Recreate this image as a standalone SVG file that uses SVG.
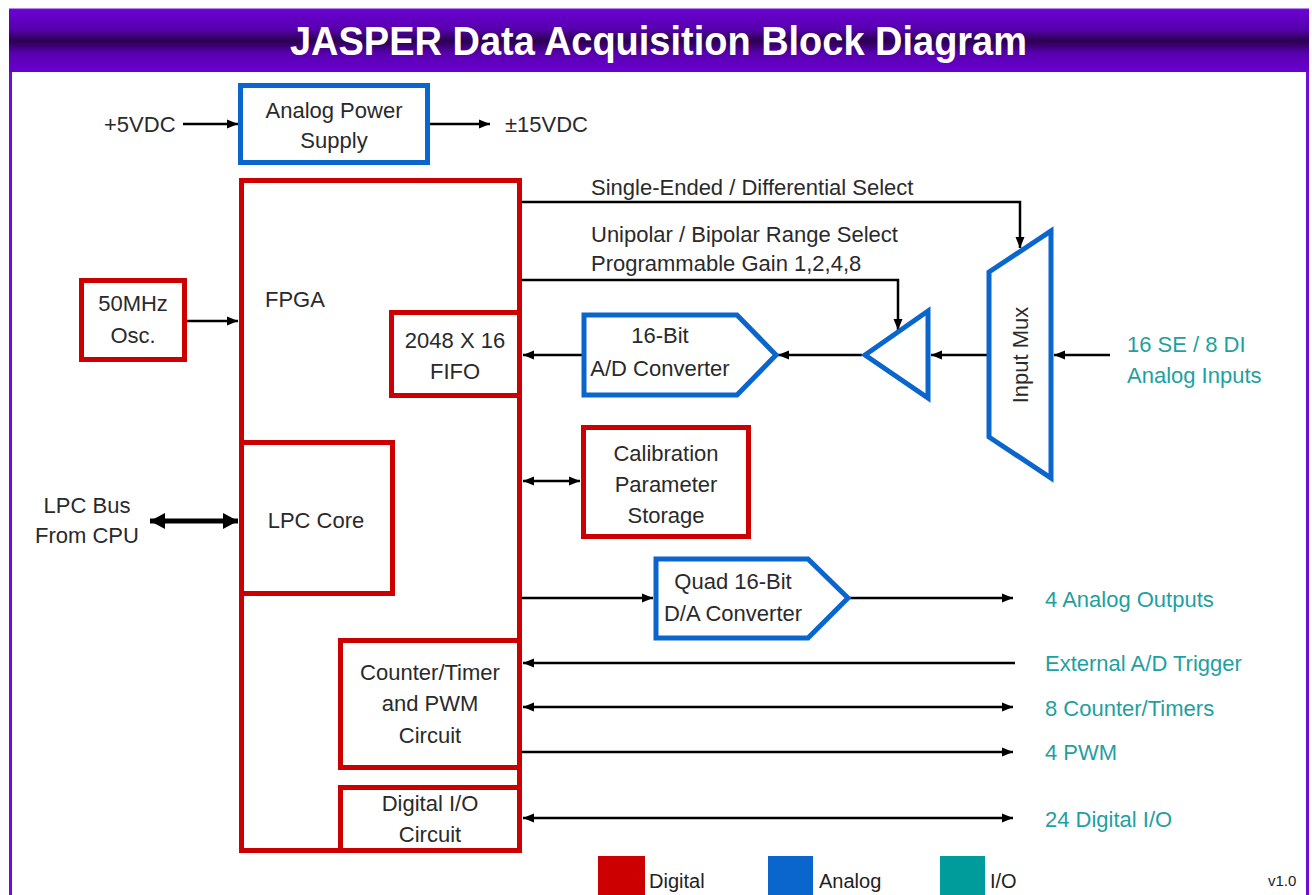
<svg xmlns="http://www.w3.org/2000/svg" width="1312" height="895" viewBox="0 0 1312 895">
<defs>
<linearGradient id="hdr" x1="0" y1="0" x2="0" y2="1">
<stop offset="0" stop-color="#6a00d0"/>
<stop offset="0.3" stop-color="#5800b0"/>
<stop offset="0.5" stop-color="#2a0050"/>
<stop offset="0.7" stop-color="#5800b0"/>
<stop offset="1" stop-color="#6a00d0"/>
</linearGradient>
<marker id="arr" markerUnits="userSpaceOnUse" markerWidth="12" markerHeight="10" refX="11" refY="5" orient="auto-start-reverse">
<path d="M0,0.5 L11,5 L0,9.5 Z" fill="#000"/>
</marker>
<marker id="arrB" markerUnits="userSpaceOnUse" markerWidth="16" markerHeight="16" refX="15" refY="8" orient="auto-start-reverse">
<path d="M0,0 L15,8 L0,16 Z" fill="#000"/>
</marker>
</defs>
<style>
.t{font-family:"Liberation Sans",Arial,sans-serif;font-size:22px;fill:#2a2a2a}
.c{text-anchor:middle}
.io{font-family:"Liberation Sans",Arial,sans-serif;font-size:22px;fill:#1fa0a0}
.dig{fill:none;stroke:#cc0000;stroke-width:5}
.ana{fill:none;stroke:#0a66cc;stroke-width:5;stroke-linejoin:miter}
.ln{fill:none;stroke:#000;stroke-width:2.5}
.lg{font-family:"Liberation Sans",Arial,sans-serif;font-size:20px;fill:#222}
</style>
<rect x="10.5" y="10" width="1297" height="900" fill="#fff" stroke="#6a0dd8" stroke-width="3"/>
<rect x="9" y="10" width="1300" height="62" fill="url(#hdr)"/>
<text x="290" y="55" textLength="737" lengthAdjust="spacingAndGlyphs" font-family="Liberation Sans,Arial,sans-serif" font-weight="bold" font-size="41" fill="#fff">JASPER Data Acquisition Block Diagram</text>

<g id="connectors">
<path class="ln" d="M183,124 H238" marker-end="url(#arr)"/>
<path class="ln" d="M430,124 H490" marker-end="url(#arr)"/>
<path class="ln" d="M187,321 H238" marker-end="url(#arr)"/>
<path class="ln" d="M522,202 H1020 V248" marker-end="url(#arr)"/>
<path class="ln" d="M522,280 H898 V330" marker-end="url(#arr)"/>
<path class="ln" d="M987,355 H931" marker-end="url(#arr)"/>
<path class="ln" d="M1110,355 H1054" marker-end="url(#arr)"/>
<path class="ln" d="M862,355 H778" marker-end="url(#arr)"/>
<path class="ln" d="M582,355 H523" marker-end="url(#arr)"/>
<path fill="none" stroke="#000" stroke-width="5" d="M150,521 H238" marker-start="url(#arrB)" marker-end="url(#arrB)"/>
<path class="ln" d="M523,481 H580" marker-start="url(#arr)" marker-end="url(#arr)"/>
<path class="ln" d="M522,598 H653" marker-end="url(#arr)"/>
<path class="ln" d="M850,598 H1013" marker-end="url(#arr)"/>
<path class="ln" d="M1015,663 H523" marker-end="url(#arr)"/>
<path class="ln" d="M523,707 H1013" marker-start="url(#arr)" marker-end="url(#arr)"/>
<path class="ln" d="M522,752 H1013" marker-end="url(#arr)"/>
<path class="ln" d="M523,818 H1013" marker-start="url(#arr)" marker-end="url(#arr)"/>
</g>

<g id="power">
<rect class="ana" x="240.5" y="85.5" width="187" height="77"/>
<text class="t c" x="334" y="118">Analog Power</text>
<text class="t c" x="334" y="148">Supply</text>
</g>
<text class="t" x="104" y="132">+5VDC</text>
<text class="t" x="505" y="132">±15VDC</text>

<g id="fpga">
<rect class="dig" x="241.5" y="180.5" width="278" height="670"/>
<text class="t" x="265" y="307">FPGA</text>
</g>
<g id="osc">
<rect class="dig" x="81.5" y="280.5" width="103" height="79"/>
<text class="t c" x="133" y="311">50MHz</text>
<text class="t c" x="133" y="343">Osc.</text>
</g>
<g id="fifo">
<rect class="dig" x="391.5" y="312.5" width="128" height="83"/>
<text class="t c" x="455" y="348">2048 X 16</text>
<text class="t c" x="455" y="379">FIFO</text>
</g>
<g id="lpccore">
<rect class="dig" x="241.5" y="442.5" width="151" height="151"/>
<text class="t c" x="316" y="528">LPC Core</text>
</g>
<text class="t c" x="87" y="513">LPC Bus</text>
<text class="t c" x="87" y="543">From CPU</text>
<g id="counter">
<rect class="dig" x="340.5" y="640.5" width="179" height="127"/>
<text class="t c" x="430" y="680">Counter/Timer</text>
<text class="t c" x="430" y="711">and PWM</text>
<text class="t c" x="430" y="743">Circuit</text>
</g>
<g id="dio">
<rect class="dig" x="340.5" y="787.5" width="179" height="63"/>
<text class="t c" x="430" y="811">Digital I/O</text>
<text class="t c" x="430" y="842">Circuit</text>
</g>
<g id="cal">
<rect class="dig" x="583.5" y="427.5" width="165" height="109"/>
<text class="t c" x="666" y="461">Calibration</text>
<text class="t c" x="666" y="492">Parameter</text>
<text class="t c" x="666" y="523">Storage</text>
</g>
<g id="adc">
<path class="ana" d="M584,315 H737 L776,355 L737,395 H584 Z"/>
<text class="t c" x="660" y="343">16-Bit</text>
<text class="t c" x="660" y="376">A/D Converter</text>
</g>
<g id="amp">
<path class="ana" d="M865,355 L928,311 V398 Z"/>
</g>
<g id="mux">
<path class="ana" d="M989,272 L1051,231 V478 L989,437 Z"/>
<text class="t c" transform="translate(1028,355) rotate(-90)" x="0" y="0">Input Mux</text>
</g>
<g id="dac">
<path class="ana" d="M656,559 H808 L848,598 L808,638 H656 Z"/>
<text class="t c" x="733" y="589">Quad 16-Bit</text>
<text class="t c" x="733" y="621">D/A Converter</text>
</g>

<text class="t" x="591" y="195">Single-Ended / Differential Select</text>
<text class="t" x="591" y="242">Unipolar / Bipolar Range Select</text>
<text class="t" x="591" y="271">Programmable Gain 1,2,4,8</text>

<text class="io" x="1127" y="352">16 SE / 8 DI</text>
<text class="io" x="1127" y="383">Analog Inputs</text>
<text class="io" x="1045" y="607">4 Analog Outputs</text>
<text class="io" x="1045" y="671">External A/D Trigger</text>
<text class="io" x="1045" y="716">8 Counter/Timers</text>
<text class="io" x="1045" y="760">4 PWM</text>
<text class="io" x="1045" y="827">24 Digital I/O</text>

<g id="legend">
<rect x="598" y="856" width="47" height="42" fill="#cc0000"/>
<text class="lg" x="649" y="888">Digital</text>
<rect x="768" y="856" width="45" height="42" fill="#0a66cc"/>
<text class="lg" x="819" y="888">Analog</text>
<rect x="940" y="856" width="45" height="42" fill="#009c9c"/>
<text class="lg" x="990" y="888">I/O</text>
<text x="1268" y="886" font-family="Liberation Sans,Arial,sans-serif" font-size="15" fill="#222">v1.0</text>
</g>
</svg>
